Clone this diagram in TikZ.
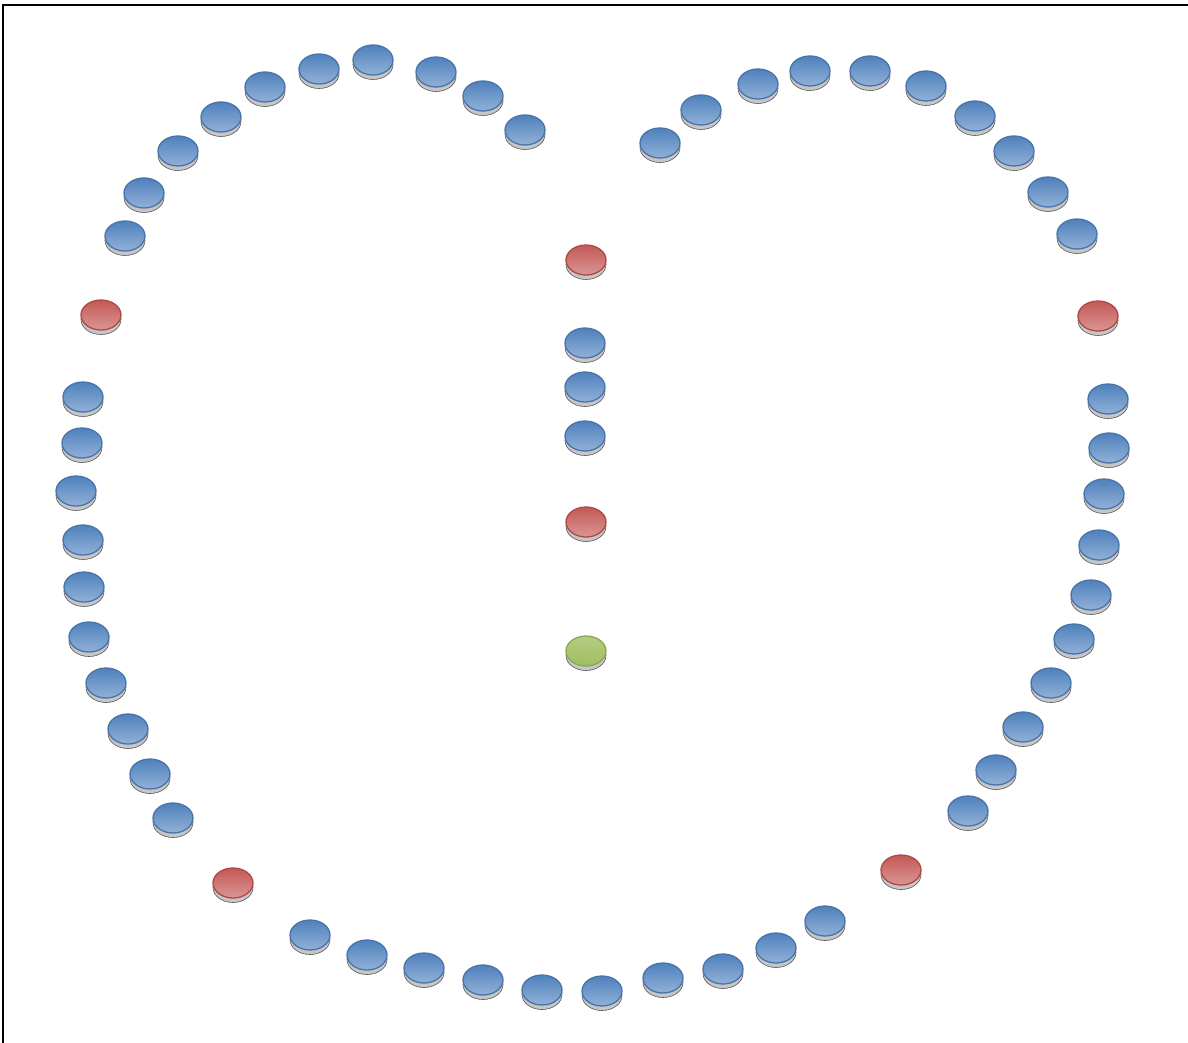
\documentclass[tikz,border=0pt]{standalone}
\usepackage{tikz}
\usetikzlibrary{shapes.geometric, shadows}
\definecolor{discblue}{RGB}{79,129,189}
\definecolor{discred}{RGB}{192,80,77}
\definecolor{discgreen}{RGB}{155,187,89}
\tikzset{
  disc/.style={ellipse, minimum width=40pt, minimum height=30pt, inner sep=0pt, line width=1.3pt,
    drop shadow={shadow xshift=0pt, shadow yshift=-4.5pt, fill=gray!45, draw=gray!70!black, line width=0.6pt, opacity=1}},
  bluedisc/.style={disc, draw=discblue!90!black, top color=discblue, bottom color=discblue!62},
  reddisc/.style={disc, draw=discred!90!black, top color=discred!95, bottom color=discred!60},
  greendisc/.style={disc, draw=discgreen!90!black, top color=discgreen!75, bottom color=discgreen!95}
}
\begin{document}
\begin{tikzpicture}[x=1pt, y=-1pt]
\useasboundingbox (0,0) rectangle (1188,1043);
% frame
\draw[line width=1.5pt] (3,1043) -- (3,5) -- (1188,5);
% left lobe, top
\foreach \x/\y [count=\i] in {373/60, 319/69, 436/72, 265/87, 483/96, 221/117, 525/130, 178/151, 144/193, 125/236}
  \node[bluedisc] (tl\i) at (\x,\y) {};
% left side
\foreach \x/\y [count=\i] in {83/397, 82/443, 76/491, 83/540, 84/587, 89/637, 106/683, 128/729, 150/774, 173/818}
  \node[bluedisc] (l\i) at (\x,\y) {};
% bottom
\foreach \x/\y [count=\i] in {310/935, 367/955, 424/968, 483/980, 542/990, 602/991, 663/978, 723/969, 776/948, 825/921}
  \node[bluedisc] (b\i) at (\x,\y) {};
% right side
\foreach \x/\y [count=\i] in {968/811, 996/770, 1023/727, 1051/683, 1074/639, 1091/595, 1099/545, 1104/494, 1109/448, 1108/399}
  \node[bluedisc] (r\i) at (\x,\y) {};
% right lobe, top
\foreach \x/\y [count=\i] in {1077/234, 1048/192, 1014/151, 975/116, 926/86, 870/71, 810/71, 758/84, 701/110, 660/143}
  \node[bluedisc] (tr\i) at (\x,\y) {};
% red markers
\foreach \x/\y [count=\i] in {101/315, 233/883, 901/870, 1098/316}
  \node[reddisc] (red\i) at (\x,\y) {};
% middle column
\node[reddisc] (m1) at (586,260) {};
\foreach \y [count=\i] in {343, 387, 436}
  \node[bluedisc] (mb\i) at (585,\y) {};
\node[reddisc] (m2) at (586,522) {};
\node[greendisc] (m3) at (586,651) {};
\end{tikzpicture}
\end{document}
